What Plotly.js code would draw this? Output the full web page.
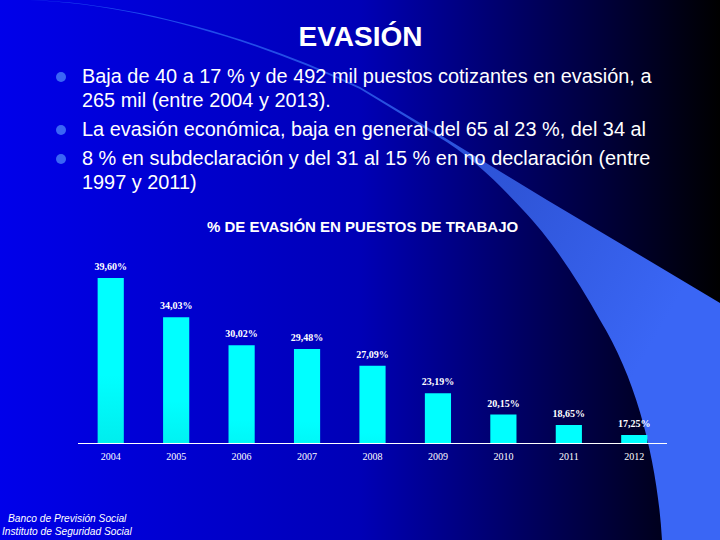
<!DOCTYPE html>
<html><head><meta charset="utf-8">
<script src="https://cdn.plot.ly/plotly-3.0.1.min.js"></script>
<style>html,body{margin:0;padding:0;background:#00008c;overflow:hidden}#c{width:720px;height:540px}</style>
</head><body><div id="c"></div>
<script>
const years=['2004','2005','2006','2007','2008','2009','2010','2011','2012'];
const evasion=[39.60,34.03,30.02,29.48,27.09,23.19,20.15,18.65,17.25];
const labels=['39,60%','34,03%','30,02%','29,48%','27,09%','23,19%','20,15%','18,65%','17,25%'];
const slideTitle='<b>EVASIÓN</b>';
const chartTitle='<b>% DE EVASIÓN EN PUESTOS DE TRABAJO</b>';
const bodyLines=[
 ['Baja de 40 a 17 % y de 492 mil puestos cotizantes en evasión, a',76],
 ['265 mil (entre 2004 y 2013).',100],
 ['La evasión económica, baja en general del 65 al 23 %, del 34 al',129],
 ['8 % en subdeclaración y del 31 al 15 % en no declaración (entre',158],
 ['1997 y 2011)',182]];
const footer=[['Banco de Previsión Social',67,518],['Instituto de Seguridad Social',67,531]];

const W=720,H=540,L=78,R=667,T=240,B=443;
const px=x=>(x-L)/(R-L), py=y=>(B-y)/(B-T);

const bg=`<svg xmlns="http://www.w3.org/2000/svg" width="720" height="540" viewBox="0 0 720 540">
<defs><linearGradient id="g" x1="0" x2="1" y1="0" y2="0">
<stop offset="0" stop-color="#0000ea"/><stop offset="0.5" stop-color="#0000b6"/><stop offset="0.72" stop-color="#000064"/><stop offset="1" stop-color="#000000"/></linearGradient>
<linearGradient id="s" gradientUnits="userSpaceOnUse" x1="100" y1="0" x2="660" y2="330">
<stop offset="0" stop-color="#1c48f0"/><stop offset="0.7" stop-color="#2f55d8"/><stop offset="1" stop-color="#3a66f5"/></linearGradient></defs>
<rect width="720" height="540" fill="url(#g)"/>
<path d="M30 0 C130 3 250 35 360 87 L437 133 L547 200 L648 260 L720 303 L720 540 L662 540 C658 470 640 385 600 320 C578 280 550 238 523 210 C500 185 470 155 437 136 L360 89 C250 37 130 4 30 0 Z" fill="url(#s)"/>
<circle cx="61" cy="77" r="5" fill="#3a66f5"/><circle cx="61" cy="130" r="5" fill="#3a66f5"/><circle cx="61" cy="159" r="5" fill="#3a66f5"/>
</svg>`;

const annotations=[
 {text:chartTitle,x:px(363),y:py(226),font:{family:'Liberation Sans',size:15,color:'#fff'}},
 ...bodyLines.map(([t,y])=>({text:t,x:px(79.5),y:py(y),xanchor:'left',font:{family:'Liberation Sans',size:19.9,color:'#fff'}})),
 ...footer.map(([t,x,y])=>({text:'<i>'+t+'</i>',x:px(x),y:py(y),font:{family:'Liberation Sans',size:10.2,color:'#fff'}}))
].map(a=>Object.assign({xref:'paper',yref:'paper',showarrow:false,xanchor:'center',yanchor:'middle'},a));

const trace={type:'bar',x:years,y:evasion,text:labels,textposition:'outside',cliponaxis:false,constraintext:'none',
 textfont:{family:'Liberation Serif',size:10,color:'#fff',weight:700},
 marker:{color:'#00ffff',line:{width:0}},hoverinfo:'x+y'};

const layout={width:W,height:H,margin:{l:L,r:W-R,t:T,b:H-B,pad:0},
 paper_bgcolor:'rgba(0,0,0,0)',plot_bgcolor:'rgba(0,0,0,0)',showlegend:false,bargap:0.6,
 title:{text:slideTitle,x:360.5/W,xanchor:'center',y:1-36/H,yanchor:'middle',font:{family:'Liberation Sans',size:28,color:'#fff'}},
 xaxis:{type:'category',showline:true,linecolor:'#fff',linewidth:1,ticks:'',ticklabelstandoff:4,showgrid:false,zeroline:false,
   tickfont:{family:'Liberation Serif',size:10,color:'#fff'}},
 yaxis:{range:[16.1,45.02],visible:false,showgrid:false,zeroline:false},
 annotations,
 images:[{source:'data:image/svg+xml;charset=utf-8,'+encodeURIComponent(bg),xref:'paper',yref:'paper',
   x:px(0),y:py(0),sizex:W/(R-L),sizey:H/(B-T),sizing:'stretch',xanchor:'left',yanchor:'top',layer:'below'}]};

Plotly.newPlot('c',[trace],layout,{displayModeBar:false,responsive:false}).then(gd=>{
 const svg=gd.querySelector('svg.main-svg');
 const ns='http://www.w3.org/2000/svg';
 const lg=document.createElementNS(ns,'linearGradient');
 lg.setAttribute('id','barGrad');lg.setAttribute('x1','0');lg.setAttribute('x2','0');lg.setAttribute('y1','0');lg.setAttribute('y2','1');
 [['0','#00ffff'],['0.35','#00ffff'],['1','#00d0d0']].forEach(([o,c])=>{const s=document.createElementNS(ns,'stop');s.setAttribute('offset',o);s.setAttribute('stop-color',c);lg.appendChild(s);});
 svg.querySelector('defs').appendChild(lg);
 gd.querySelectorAll('.bars .point path').forEach(p=>{p.style.fill='url(#barGrad)';});
 gd.querySelectorAll('.bars .point text').forEach(t=>{t.setAttribute('transform','translate(0,-3) '+(t.getAttribute('transform')||''));});
});
</script></body></html>
